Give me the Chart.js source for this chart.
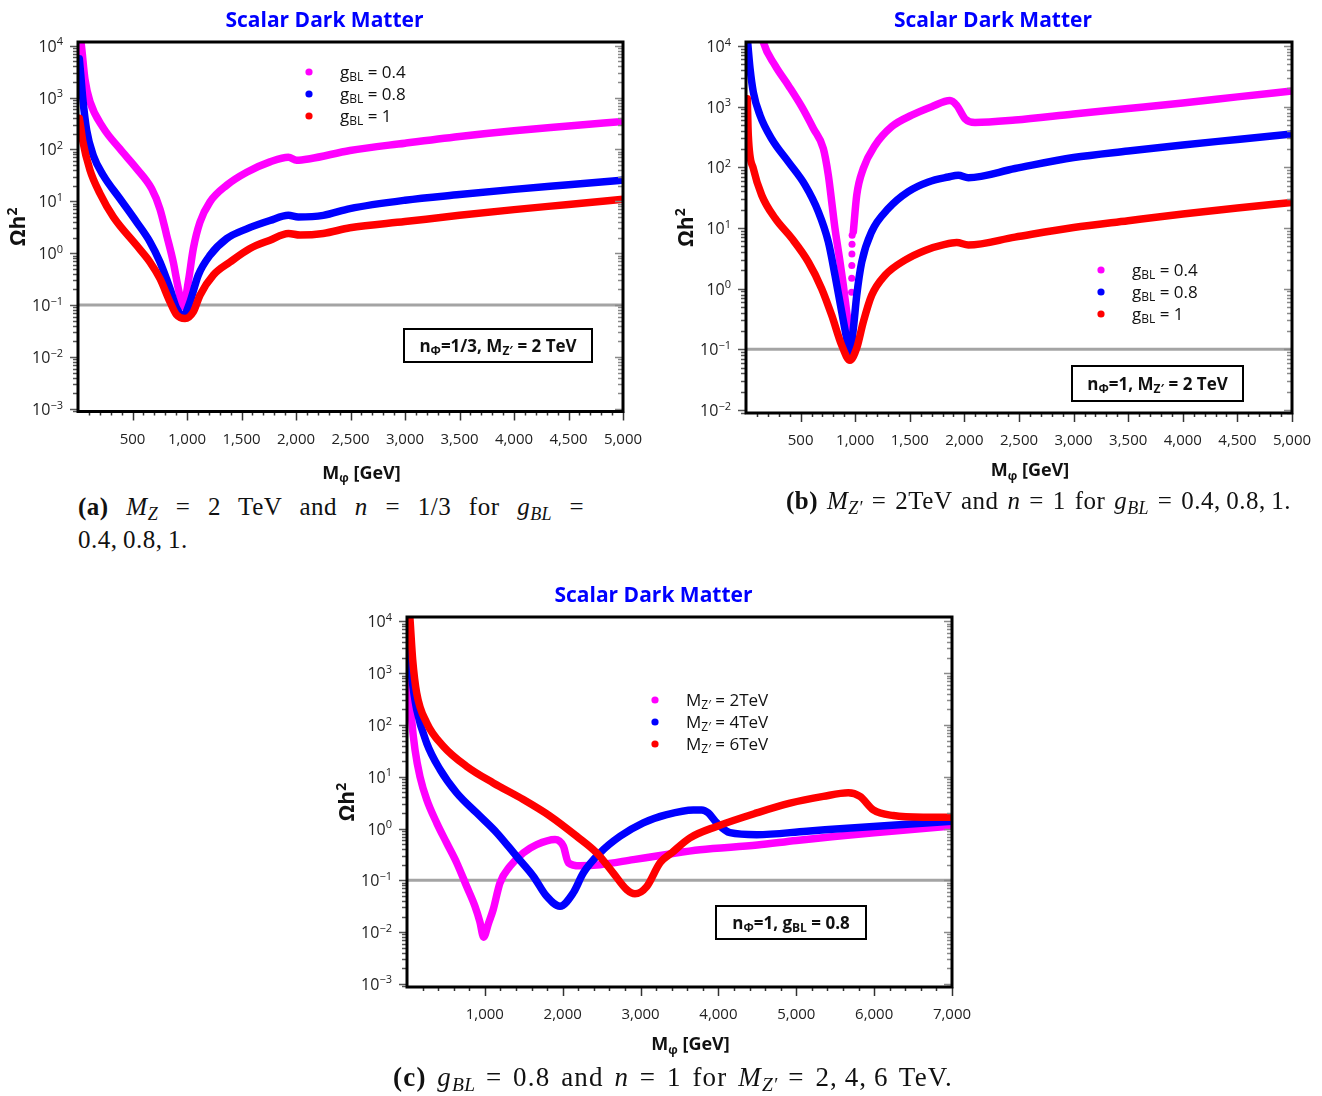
<!DOCTYPE html>
<html>
<head>
<meta charset="utf-8">
<title>Scalar Dark Matter</title>
<script src="https://cdn.jsdelivr.net/npm/chart.js@4.4.0/dist/chart.umd.min.js"></script>
<style>
  body { margin: 0; width: 1322px; height: 1096px; background: #fff; position: relative; overflow: hidden; }
  canvas { position: absolute; }
  .cap { position: absolute; font-family: "Liberation Serif", "DejaVu Serif", serif; font-size: 25px; line-height: 26px; letter-spacing: 0.5px; color: #111; white-space: nowrap; }
  .cap.just { white-space: normal; text-align: justify; text-align-last: justify; }
  .cap sub { font-size: 0.72em; vertical-align: -0.28em; line-height: 0; letter-spacing: 0.3px; }
</style>
</head>
<body>
<canvas id="chartA" width="660" height="490" style="left:0;top:0;width:660px;height:490px"></canvas>
<canvas id="chartB" width="662" height="490" style="left:660px;top:0;width:662px;height:490px"></canvas>
<canvas id="chartC" width="660" height="490" style="left:330px;top:575px;width:660px;height:490px"></canvas>

<div class="cap just" style="left:78px;top:494px;width:506px"><b>(a)</b> <i>M<sub>Z</sub></i> = 2 TeV and <i>n</i> = 1/3 for <i>g<sub>BL</sub></i> =</div>
<div class="cap" style="left:78px;top:527px">0.4,&#8201;0.8,&#8201;1.</div>
<div class="cap just" style="left:786px;top:488px;width:505px"><b>(b)</b> <i>M<sub>Z′</sub></i> = 2TeV and <i>n</i> = 1 for <i>g<sub>BL</sub></i> = 0.4,&#8201;0.8,&#8201;1.</div>
<div class="cap just" style="left:393px;top:1063px;width:560px;font-size:27px;line-height:28px;letter-spacing:1.2px"><b>(c)</b> <i>g<sub>BL</sub></i> = 0.8 and <i>n</i> = 1 for <i>M<sub>Z′</sub></i> = 2,&#8201;4,&#8201;6 TeV.</div>

<script>
// ---- data ----

// tick labels
const xTicksAB = [500, 1000, 1500, 2000, 2500, 3000, 3500, 4000, 4500, 5000];
const xTicksC = [1000, 2000, 3000, 4000, 5000, 6000, 7000];
const yTicksA = [1e-3, 1e-2, 1e-1, 1, 10, 100, 1e3, 1e4];
const yTicksB = [1e-2, 1e-1, 1, 10, 100, 1e3, 1e4];
const yTicksC = [1e-3, 1e-2, 1e-1, 1, 10, 100, 1e3, 1e4];
const relicValue = 0.1;

// legend categories
const gLabels = ['0.4', '0.8', '1'];
const mzLabels = ['2', '4', '6'];

// (a) n = 1/3, MZ' = 2 TeV
const aMagX = [20, 30, 64, 110, 232, 385, 538, 676, 752, 813, 874, 920, 966, 1012, 1058, 1119, 1211, 1364, 1548, 1761, 1930, 2006, 2128, 2495, 3000, 3500, 4000, 4500, 5000];
const aMagY = [14000, 10500, 2240, 832, 260, 102, 42.7, 17.4, 7.1, 2.24, 0.676, 0.209, 0.093, 0.282, 1.23, 3.98, 9.77, 20.4, 36.3, 57.5, 70.8, 61.7, 66.1, 95.5, 132, 178, 229, 282, 347];
const aBlueX = [12, 25, 43, 80, 141, 232, 385, 538, 660, 752, 844, 905, 966, 1027, 1104, 1211, 1364, 1548, 1761, 1930, 2021, 2250, 2495, 3000, 3500, 4000, 4500, 5000];
const aBlueY = [5600, 2800, 1000, 234, 75.9, 31.6, 11.2, 3.98, 1.66, 0.676, 0.209, 0.087, 0.062, 0.115, 0.38, 0.912, 1.91, 2.95, 4.27, 5.37, 5.01, 5.37, 7.24, 10.5, 13.5, 17.0, 20.9, 25.7];
const aRedX = [12, 25, 43, 110, 202, 324, 538, 660, 752, 844, 905, 982, 1058, 1119, 1242, 1395, 1578, 1761, 1930, 2037, 2250, 2495, 3000, 3500, 4000, 4500, 5000];
const aRedY = [400, 270, 148, 39.8, 14.1, 5.01, 1.41, 0.676, 0.324, 0.115, 0.0646, 0.055, 0.0741, 0.155, 0.38, 0.676, 1.23, 1.78, 2.40, 2.24, 2.40, 3.09, 4.07, 5.37, 6.92, 8.71, 11.0];

// (b) n = 1, MZ' = 2 TeV
const bMagX = [120, 158, 266, 388, 510, 617, 708, 754, 785, 815, 861, 891, 922, 943, 956, 970, 983, 1014, 1074, 1181, 1334, 1518, 1701, 1868, 1930, 2006, 2097, 2463, 3000, 3500, 4000, 4500, 5000];
const bMagY = [25000, 11700, 4790, 2240, 1000, 437, 204, 74.1, 26.9, 9.77, 2.75, 1.15, 0.417, 0.224, 0.12, null, 8.7, 34.7, 95.5, 229, 468, 724, 1000, 1260, 1050, 631, 550, 603, 759, 933, 1150, 1450, 1820];
const bMagDotX = [972, 971, 970, 969, 968, 967];
const bMagDotY = [7.59, 5.37, 3.72, 2.40, 1.48, 0.87];
const bBlueX = [5, 15, 37, 67, 128, 235, 388, 540, 662, 754, 815, 876, 922, 952, 983, 1014, 1060, 1151, 1303, 1486, 1670, 1853, 1944, 2036, 2463, 3000, 3500, 4000, 4500, 5000];
const bBlueY = [20000, 11700, 4270, 1740, 724, 295, 123, 51.3, 18.6, 5.89, 1.66, 0.417, 0.151, 0.085, 0.219, 0.776, 2.75, 8.71, 20.9, 39.8, 57.5, 69.2, 74.1, 67.6, 95.5, 145, 186, 234, 288, 355];
const bRedX = [12, 21, 67, 144, 266, 419, 571, 693, 785, 876, 952, 1014, 1074, 1151, 1273, 1456, 1639, 1822, 1930, 2036, 2463, 3000, 3500, 4000, 4500, 5000];
const bRedY = [1350, 339, 95.5, 34.7, 14.5, 6.76, 2.75, 1.0, 0.363, 0.117, 0.066, 0.105, 0.282, 0.776, 1.66, 2.95, 4.27, 5.37, 5.75, 5.25, 7.08, 10.2, 13.2, 17.0, 21.4, 26.3];

// (c) n = 1, gBL = 0.8
const cMagX = [10, 17, 60, 103, 167, 253, 381, 510, 638, 767, 873, 935, 985, 1045, 1108, 1194, 1323, 1494, 1666, 1901, 2008, 2072, 2222, 2479, 2907, 3336, 3763, 4500, 5000, 6000, 7000];
const cMagY = [2000, 1120, 126, 33.1, 10, 3.63, 1.29, 0.525, 0.219, 0.0759, 0.0316, 0.016, 0.008, 0.0145, 0.0275, 0.0891, 0.186, 0.339, 0.49, 0.617, 0.457, 0.219, 0.191, 0.20, 0.251, 0.316, 0.389, 0.479, 0.589, 0.832, 1.12];
const cBlueX = [10, 17, 60, 124, 253, 424, 638, 895, 1152, 1409, 1622, 1794, 1965, 2136, 2264, 2479, 2736, 3035, 3336, 3677, 3785, 3870, 3978, 4149, 4492, 5134, 5989, 7000];
const cBlueY = [8000, 3800, 871, 200, 44.7, 13.8, 4.9, 2.0, 0.832, 0.288, 0.12, 0.049, 0.0316, 0.0575, 0.138, 0.339, 0.708, 1.29, 1.86, 2.29, 2.29, 2.0, 1.29, 0.832, 0.759, 0.891, 1.10, 1.38];
const cRedX = [25, 39, 73, 124, 253, 466, 767, 1108, 1494, 1837, 2180, 2436, 2650, 2822, 2928, 3079, 3250, 3400, 3635, 3978, 4492, 4919, 5347, 5668, 5818, 5989, 6246, 6632, 7000];
const cRedY = [20000, 10700, 1820, 417, 110, 38.9, 15.8, 7.59, 3.63, 1.74, 0.708, 0.339, 0.138, 0.0661, 0.055, 0.0759, 0.219, 0.339, 0.661, 1.10, 2.0, 3.09, 4.17, 4.9, 4.17, 2.29, 1.78, 1.66, 1.66];

// ---- styling ----
const MAGENTA = '#ff00ff', BLUE = '#0000ff', RED = '#ff0000';
const FONT = '"Open Sans", "Noto Sans", sans-serif';

function pts(xs, ys) {
    return xs.map((x, i) => ({ x, y: ys[i] }));
}

function curve(xs, ys, color, order) {
    return {
        data: pts(xs, ys),
        borderColor: color,
        backgroundColor: color,
        borderWidth: 7.5,
        borderCapStyle: 'round',
        borderJoinStyle: 'round',
        cubicInterpolationMode: 'monotone',
        pointRadius: 0,
        spanGaps: false,
        clip: 0,
        order
    };
}

// draw text made of normal / sub / sup parts
function richText(ctx, parts, x, y, size, weight, align) {
    const base = `${weight} ${size}px ${FONT}`;
    const small = `${weight} ${Math.round(size * 0.68)}px ${FONT}`;
    let w = 0;
    parts.forEach(p => { ctx.font = p[1] ? small : base; w += ctx.measureText(p[0]).width; });
    let cx = align === 'center' ? x - w / 2 : align === 'right' ? x - w : x;
    ctx.textAlign = 'left';
    ctx.textBaseline = 'alphabetic';
    parts.forEach(p => {
        ctx.font = p[1] ? small : base;
        const dy = p[1] === 'sub' ? size * 0.2 : p[1] === 'sup' ? -size * 0.4 : 0;
        ctx.fillText(p[0], cx, y + dy);
        cx += ctx.measureText(p[0]).width;
    });
}

function line(ctx, x1, y1, x2, y2) {
    ctx.beginPath();
    ctx.moveTo(x1, y1);
    ctx.lineTo(x2, y2);
    ctx.stroke();
}

function makeDeco(cfg) {
    return {
        id: 'deco',
        beforeDatasetsDraw(chart) {
            const { ctx, chartArea: a, scales: { y } } = chart;
            const py = y.getPixelForValue(relicValue);
            ctx.save();
            ctx.strokeStyle = '#a4a4a4';
            ctx.lineWidth = 3;
            line(ctx, a.left, py, a.right, py);
            ctx.restore();
        },
        afterDraw(chart) {
            const { ctx, chartArea: a, scales: { x, y } } = chart;
            ctx.save();

            // y ticks (log minor ticks), outside left and inside right
            const e0 = Math.floor(Math.log10(y.min)), e1 = Math.ceil(Math.log10(y.max));
            for (let e = e0; e <= e1; e++) {
                for (let m = 1; m <= 9; m++) {
                    const v = m * Math.pow(10, e);
                    if (v < y.min || v > y.max) continue;
                    const p = Math.round(y.getPixelForValue(v)) + 0.5;
                    const len = m === 1 ? 8 : 5;
                    ctx.lineWidth = 1.5;
                    ctx.strokeStyle = '#555';
                    line(ctx, a.left - len, p, a.left, p);
                    ctx.strokeStyle = '#8a8a8a';
                    line(ctx, a.right - len, p, a.right, p);
                }
            }
            // x ticks
            ctx.strokeStyle = '#333';
            ctx.lineWidth = 1.5;
            for (let v = cfg.xMinor; v <= x.max + 1e-6; v += cfg.xMinor) {
                const p = Math.round(x.getPixelForValue(v)) + 0.5;
                const major = cfg.xTicks.includes(v);
                line(ctx, p, a.bottom, p, a.bottom + (major ? 9 : 4));
            }

            // frame
            ctx.strokeStyle = '#000';
            ctx.lineWidth = 3;
            ctx.strokeRect(a.left, a.top, a.right - a.left, a.bottom - a.top);

            // tick labels
            ctx.fillStyle = '#222';
            cfg.yTicks.forEach(v => {
                const e = String(Math.round(Math.log10(v))).replace('-', '\u2212');
                richText(ctx, [['10'], [e, 'sup']], a.left - 15, y.getPixelForValue(v) + 6, 16, 'normal', 'right');
            });
            ctx.font = `normal 15px ${FONT}`;
            ctx.textAlign = 'center';
            ctx.textBaseline = 'middle';
            cfg.xTicks.forEach(v => {
                ctx.fillText(v.toLocaleString('en-US'), x.getPixelForValue(v), a.bottom + 28);
            });

            const cxm = (a.left + a.right) / 2;
            // title
            ctx.fillStyle = '#0000ff';
            ctx.font = `bold 21px ${FONT}`;
            ctx.textAlign = 'center';
            ctx.textBaseline = 'middle';
            ctx.fillText('Scalar Dark Matter', cxm - 26, a.top - 21);

            // axis titles
            ctx.fillStyle = '#111';
            richText(ctx, [['M'], ['\u03c6', 'sub'], [' [GeV]']], cxm + 11, a.bottom + cfg.xTitleDy + 6, 18, 'bold', 'center');
            ctx.save();
            ctx.translate(a.left - 60, (a.top + a.bottom) / 2);
            ctx.rotate(-Math.PI / 2);
            richText(ctx, [['\u03a9h'], ['2', 'sup']], 0, 7, 21, 'bold', 'center');
            ctx.restore();

            // legend
            const colors = [MAGENTA, BLUE, RED];
            cfg.legend.forEach((parts, i) => {
                const lx = a.left + cfg.legendX, ly = a.top + cfg.legendY + i * 22;
                ctx.fillStyle = colors[i];
                ctx.beginPath();
                ctx.arc(lx, ly, 3.6, 0, Math.PI * 2);
                ctx.fill();
                ctx.fillStyle = '#111';
                richText(ctx, parts, lx + 31, ly + 6, 17, 'normal', 'left');
            });

            // parameter box
            const b = cfg.box;
            ctx.fillStyle = '#fff';
            ctx.fillRect(a.left + b.x, a.top + b.y, b.w, b.h);
            ctx.strokeStyle = '#000';
            ctx.lineWidth = 2;
            ctx.strokeRect(a.left + b.x, a.top + b.y, b.w, b.h);
            ctx.fillStyle = '#111';
            richText(ctx, b.parts, a.left + b.x + b.w / 2, a.top + b.y + b.h / 2 + 6, 17, 'bold', 'center');

            ctx.restore();
        }
    };
}

function makeChart(id, datasets, cfg) {
    new Chart(document.getElementById(id), {
        type: 'line',
        data: { datasets },
        options: {
            responsive: false,
            animation: false,
            devicePixelRatio: 1,
            layout: { padding: cfg.pad },
            scales: {
                x: { type: 'linear', min: 0, max: cfg.xMax, display: false },
                y: { type: 'logarithmic', min: cfg.yMin, max: cfg.yMax, display: false }
            },
            plugins: { legend: { display: false }, tooltip: { enabled: false } }
        },
        plugins: [makeDeco(cfg)]
    });
}

const gLegend = gLabels.map(g => [['g'], ['BL', 'sub'], [' = ' + g]]);
const mzLegend = mzLabels.map(m => [['M'], ['Z\u2032', 'sub'], [' = ' + m + 'TeV']]);

makeChart('chartA', [
    curve(aMagX, aMagY, MAGENTA, 3),
    curve(aBlueX, aBlueY, BLUE, 2),
    curve(aRedX, aRedY, RED, 1)
], {
    pad: { left: 78, top: 42, right: 37, bottom: 78.5 },
    xMax: 5000, yMin: Math.pow(10, -3.05), yMax: Math.pow(10, 4.07),
    xTicks: xTicksAB, xMinor: 100, yTicks: yTicksA, xTitleDy: 61,
    legend: gLegend, legendX: 231, legendY: 30,
    box: { x: 326, y: 287, w: 188, h: 33, parts: [['n'], ['\u03a6', 'sub'], ['=1/3, M'], ['Z\u2032', 'sub'], [' = 2 TeV']] }
});

makeChart('chartB', [
    curve(bMagX, bMagY, MAGENTA, 3),
    {
        type: 'scatter',
        data: pts(bMagDotX, bMagDotY),
        backgroundColor: MAGENTA,
        borderWidth: 0,
        pointRadius: 3.5,
        showLine: false,
        clip: 0,
        order: 4
    },
    curve(bBlueX, bBlueY, BLUE, 2),
    curve(bRedX, bRedY, RED, 1)
], {
    pad: { left: 86, top: 42, right: 30, bottom: 77 },
    xMax: 5000, yMin: Math.pow(10, -2.05), yMax: Math.pow(10, 4.066),
    xTicks: xTicksAB, xMinor: 100, yTicks: yTicksB, xTitleDy: 57,
    legend: gLegend, legendX: 355, legendY: 228,
    box: { x: 326, y: 324, w: 171, h: 35, parts: [['n'], ['\u03a6', 'sub'], ['=1, M'], ['Z\u2032', 'sub'], [' = 2 TeV']] }
});

makeChart('chartC', [
    curve(cMagX, cMagY, MAGENTA, 3),
    curve(cBlueX, cBlueY, BLUE, 2),
    curve(cRedX, cRedY, RED, 1)
], {
    pad: { left: 77, top: 42, right: 38, bottom: 78 },
    xMax: 7000, yMin: Math.pow(10, -3.06), yMax: Math.pow(10, 4.085),
    xTicks: xTicksC, xMinor: 200, yTicks: yTicksC, xTitleDy: 57,
    legend: mzLegend, legendX: 248, legendY: 83,
    box: { x: 309, y: 289, w: 150, h: 33, parts: [['n'], ['\u03a6', 'sub'], ['=1, g'], ['BL', 'sub'], [' = 0.8']] }
});
</script>
</body>
</html>
